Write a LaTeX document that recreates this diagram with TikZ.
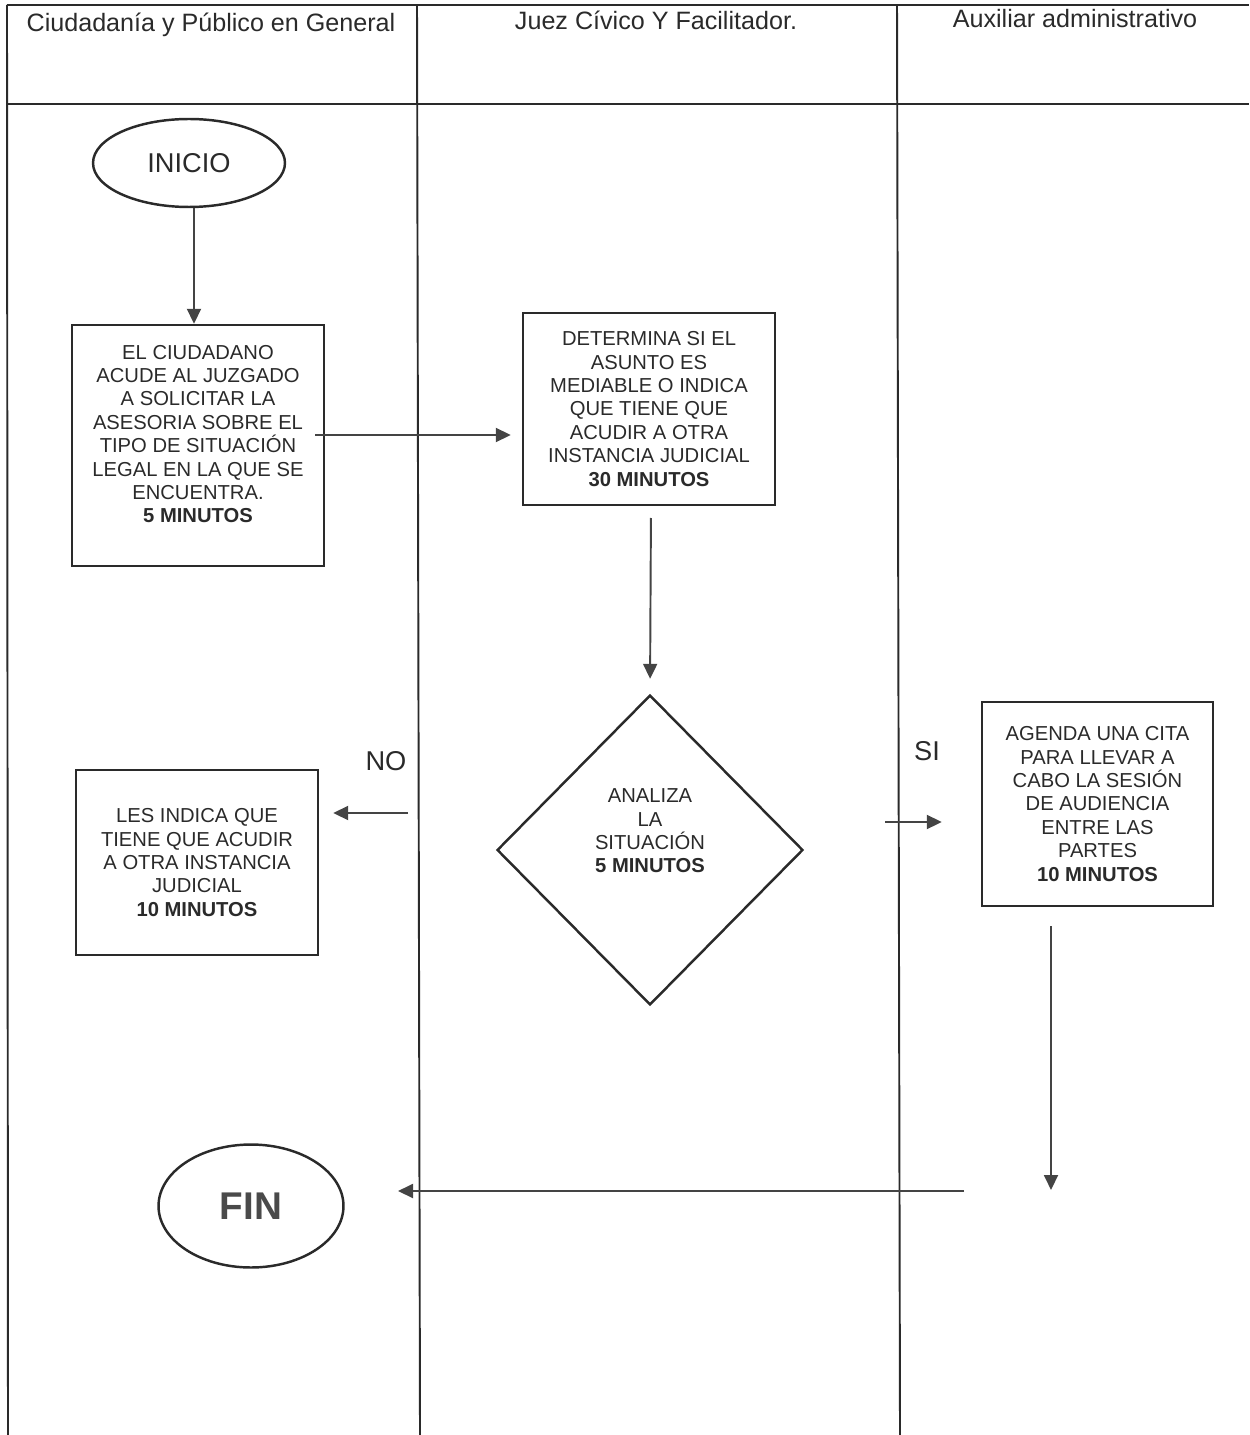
\documentclass[tikz,border=0pt]{standalone}
\usepackage{fontspec}
\setmainfont{Liberation Sans}
\usetikzlibrary{shapes.geometric,arrows.meta}
\definecolor{ink}{HTML}{2A2A2A}
\definecolor{arrc}{HTML}{444444}
\tikzset{
  lane/.style={draw=ink, line width=1.1pt},
  box/.style={draw=ink, line width=1.4pt, rectangle, inner sep=0pt},
  oval/.style={draw=ink, line width=1.4pt, ellipse, inner sep=0pt},
  txt/.style={align=center, font=\fontsize{11.5}{13.3}\selectfont, text=ink},
  hdr/.style={font=\fontsize{14.3}{16}\selectfont, text=ink, anchor=base},
  arr/.style={draw=arrc, line width=1.1pt, -{Triangle[length=0.3cm,width=0.28cm]}},
  lbl/.style={font=\fontsize{15.5}{18}\selectfont, text=ink, anchor=base},
}
\begin{document}
\begin{tikzpicture}[x=0.02cm,y=-0.02cm]
\useasboundingbox (0,0) rectangle (1249,1435);
% lanes
\draw[lane] (7,5) -- (1249,5);
\draw[lane] (7,104) -- (1249,104);
\draw[lane] (7,5) -- (8,1435);
\draw[lane] (417,5) -- (420,1435);
\draw[lane] (897,5) -- (900,1435);
\node[hdr] (h1) at (211,32) {Ciudadanía y Público en General};
\node[hdr] (h2) at (656,30) {Juez Cívico Y Facilitador.};
\node[hdr] (h3) at (1075,28) {Auxiliar administrativo};
% nodes
\node[oval, minimum width=3.84cm, minimum height=1.76cm, font=\fontsize{15.5}{18}\selectfont, text=ink] (inicio) at (189,163) {INICIO};
\node[box, minimum width=5.04cm, minimum height=4.82cm] (b1) at (198,445.5) {};
\node[txt] (b1t) at (198,434) {EL CIUDADANO\\ACUDE AL JUZGADO\\A SOLICITAR LA\\ASESORIA SOBRE EL\\TIPO DE SITUACIÓN\\LEGAL EN LA QUE SE\\ENCUENTRA.\\\textbf{5 MINUTOS}};
\node[box, minimum width=5.04cm, minimum height=3.84cm, txt] (b2) at (649,409) {DETERMINA SI EL\\ASUNTO ES\\MEDIABLE O INDICA\\QUE TIENE QUE\\ACUDIR A OTRA\\INSTANCIA JUDICIAL\\\textbf{30 MINUTOS}};
\node[draw=ink, line width=1.4pt, diamond, inner sep=0pt, minimum width=6.12cm, minimum height=6.2cm] (dia) at (650,850) {};
\node[txt] (diat) at (650,831) {ANALIZA\\LA\\SITUACIÓN\\\textbf{5 MINUTOS}};
\node[box, minimum width=4.84cm, minimum height=3.7cm, txt] (b3) at (197,862.5) {LES INDICA QUE\\TIENE QUE ACUDIR\\A OTRA INSTANCIA\\JUDICIAL\\\textbf{10 MINUTOS}};
\node[box, minimum width=4.62cm, minimum height=4.08cm, txt] (b4) at (1097.5,804) {AGENDA UNA CITA\\PARA LLEVAR A\\CABO LA SESIÓN\\DE AUDIENCIA\\ENTRE LAS\\PARTES\\\textbf{10 MINUTOS}};
\node[oval, minimum width=3.7cm, minimum height=2.46cm, font=\bfseries\fontsize{22}{26}\selectfont, text=ink!85] (fin) at (251,1206) {FIN};
\node[lbl] (no) at (386,770) {NO};
\node[lbl] (si) at (927,760) {SI};
% coordinates
\coordinate (startx) at (194,0);
\coordinate (nostart) at (408,813);
\coordinate (sistart) at (885,822);
\coordinate (downend) at (1051,1190);
\coordinate (backstart) at (964,1191);
\coordinate (backend) at (398,1191);
% connectors
\draw[arr] (inicio.south -| startx) -- (b1.north -| startx);
\draw[arr, shorten <=-10*0.02cm, shorten >=11*0.02cm] (b1.east |- 0,435) -- (b2.west |- 0,435);
\draw[arr, shorten <=13*0.02cm, shorten >=15*0.02cm] (651,505) -- (dia.north);
\draw[arr, shorten >=14*0.02cm] (nostart) -- (b3.east |- nostart);
\draw[arr, shorten >=39*0.02cm] (sistart) -- (b4.west |- sistart);
\draw[arr, shorten <=19*0.02cm] (b4.south -| downend) -- (downend);
\draw[arr] (backstart) -- (backend);
\end{tikzpicture}
\end{document}
